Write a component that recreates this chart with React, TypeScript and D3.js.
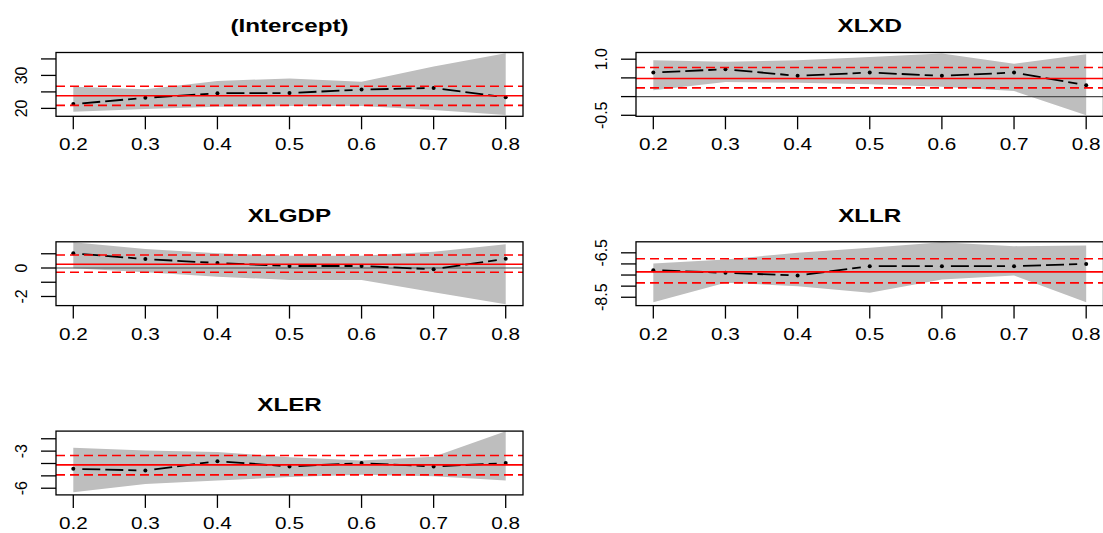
import React from "react";
import * as d3 from "d3";

// ---- data ----
const taus = [0.2, 0.3, 0.4, 0.5, 0.6, 0.7, 0.8];
const xTicks = [0.2, 0.3, 0.4, 0.5, 0.6, 0.7, 0.8];
const xTickLabels = ["0.2", "0.3", "0.4", "0.5", "0.6", "0.7", "0.8"];

const titles = ["(Intercept)", "XLXD", "XLGDP", "XLLR", "XLER"];

// (Intercept)
const interceptEst = [21.3, 23.2, 24.6, 24.65, 25.7, 26.2, 23.35];
const interceptLo = [19.0, 19.8, 20.5, 20.7, 20.7, 19.5, 18.0];
const interceptHi = [26.6, 25.8, 28.3, 29.1, 28.1, 32.7, 36.7];
const interceptOls = [23.83, 20.9, 26.7];
const interceptYLim = [17.6, 36.95];
const interceptYTicks = [20, 25, 30, 35];
const interceptYLabels = ["20", "", "30", ""];

// XLXD
const xlxdEst = [0.643, 0.732, 0.554, 0.643, 0.554, 0.643, 0.304];
const xlxdLo = [0.17, 0.39, 0.37, 0.33, 0.26, 0.15, -0.5];
const xlxdHi = [0.973, 0.93, 0.97, 1.06, 1.15, 0.88, 1.13];
const xlxdOls = [0.482, 0.232, 0.777];
const xlxdYLim = [-0.527, 1.179];
const xlxdYTicks = [-0.5, 0, 0.5, 1.0];
const xlxdYLabels = ["-0.5", "", "", "1.0"];

// XLGDP
const xlgdpEst = [1.03, 0.63, 0.35, 0.14, 0.14, -0.09, 0.65];
const xlgdpLo = [-0.02, -0.3, -0.61, -0.84, -0.84, -1.7, -2.54];
const xlgdpHi = [1.8, 1.33, 1.03, 0.86, 0.86, 1.14, 1.66];
const xlgdpOls = [0.26, -0.3, 0.91];
const xlgdpYLim = [-2.64, 1.84];
const xlgdpYTicks = [-2, -1, 0, 1];
const xlgdpYLabels = ["-2", "", "0", ""];

// XLLR
const xllrEst = [-7.28, -7.4, -7.52, -7.1, -7.1, -7.1, -7.0];
const xllrLo = [-8.73, -7.85, -8.0, -8.3, -7.7, -7.52, -8.73];
const xllrHi = [-6.98, -6.8, -6.5, -6.27, -6.02, -6.2, -6.17];
const xllrOls = [-7.357, -7.853, -6.77];
const xllrYLim = [-8.876, -6.004];
const xllrYTicks = [-8.5, -8, -7.5, -7, -6.5];
const xllrYLabels = ["-8.5", "", "", "", "-6.5"];

// XLER
const xlerEst = [-4.43, -4.57, -3.81, -4.24, -3.97, -4.24, -3.97];
const xlerLo = [-6.32, -5.65, -5.38, -5.1, -4.92, -5.03, -5.38];
const xlerHi = [-2.73, -2.95, -3.08, -3.49, -3.76, -3.45, -1.4];
const xlerOls = [-4.11, -4.92, -3.35];
const xlerYLim = [-6.54, -1.38];
const xlerYTicks = [-6, -5, -4, -3, -2];
const xlerYLabels = ["-6", "", "", "-3", ""];

// ---- layout ----
const W = 1103;
const H = 533;
const COL_LEFT = [56, 636];
const COL_RIGHT = [523, 1103.5];
const ROW_TOP = [52.5, 241.8, 431.1];
const BOX_H = 63.8;
const FONT = "'Liberation Sans', Arial, Helvetica, sans-serif";

const panels = [
  { title: titles[0], col: 0, row: 0, est: interceptEst, lo: interceptLo, hi: interceptHi, ols: interceptOls, ylim: interceptYLim, yTicks: interceptYTicks, yLabels: interceptYLabels },
  { title: titles[1], col: 1, row: 0, est: xlxdEst, lo: xlxdLo, hi: xlxdHi, ols: xlxdOls, ylim: xlxdYLim, yTicks: xlxdYTicks, yLabels: xlxdYLabels },
  { title: titles[2], col: 0, row: 1, est: xlgdpEst, lo: xlgdpLo, hi: xlgdpHi, ols: xlgdpOls, ylim: xlgdpYLim, yTicks: xlgdpYTicks, yLabels: xlgdpYLabels },
  { title: titles[3], col: 1, row: 1, est: xllrEst, lo: xllrLo, hi: xllrHi, ols: xllrOls, ylim: xllrYLim, yTicks: xllrYTicks, yLabels: xllrYLabels },
  { title: titles[4], col: 0, row: 2, est: xlerEst, lo: xlerLo, hi: xlerHi, ols: xlerOls, ylim: xlerYLim, yTicks: xlerYTicks, yLabels: xlerYLabels },
];

function Panel({ p, idx }: { p: any; idx: number }) {
  const L = COL_LEFT[p.col];
  const R = COL_RIGHT[p.col];
  const T = ROW_TOP[p.row];
  const B = T + BOX_H;
  const [tmin, tmax] = d3.extent(taus) as [number, number];
  const pad = (tmax - tmin) * 0.04;
  const x = d3.scaleLinear().domain([tmin - pad, tmax + pad]).range([L, R]);
  const y = d3.scaleLinear().domain(p.ylim).range([B, T]);

  const band = d3
    .area<number>()
    .x((_, i) => x(taus[i]))
    .y0((_, i) => y(p.lo[i]))
    .y1((_, i) => y(p.hi[i]))(taus);

  const gap = 9;
  const segs: { x1: number; y1: number; x2: number; y2: number }[] = [];
  for (let i = 0; i < taus.length - 1; i++) {
    const ax = x(taus[i]), ay = y(p.est[i]);
    const bx = x(taus[i + 1]), by = y(p.est[i + 1]);
    const len = Math.hypot(bx - ax, by - ay);
    if (len <= 2 * gap) continue;
    const ux = (bx - ax) / len, uy = (by - ay) / len;
    segs.push({ x1: ax + ux * gap, y1: ay + uy * gap, x2: bx - ux * gap, y2: by - uy * gap });
  }

  const clipId = `clip-${idx}`;
  const cx = (L + R) / 2;
  const hasZero = p.ylim[0] < 0 && p.ylim[1] > 0;

  return (
    <g>
      <defs>
        <clipPath id={clipId}>
          <rect x={L} y={T} width={R - L} height={B - T} />
        </clipPath>
      </defs>
      <g clipPath={`url(#${clipId})`}>
        <path d={band || ""} fill="#bebebe" stroke="none" />
        {hasZero && <line x1={L} x2={R} y1={y(0)} y2={y(0)} stroke="#4d4d4d" strokeWidth={1.2} />}
        {segs.map((s, i) => (
          <line key={i} x1={s.x1} y1={s.y1} x2={s.x2} y2={s.y2} stroke="#000" strokeWidth={1.8} strokeDasharray="18,5" />
        ))}
        {taus.map((t, i) => (
          <circle key={i} cx={x(t)} cy={y(p.est[i])} r={2} fill="#000" />
        ))}
        <line x1={L} x2={R} y1={y(p.ols[0])} y2={y(p.ols[0])} stroke="#ff0000" strokeWidth={1.6} />
        <line x1={L} x2={R} y1={y(p.ols[1])} y2={y(p.ols[1])} stroke="#ff0000" strokeWidth={1.6} strokeDasharray="9,5" />
        <line x1={L} x2={R} y1={y(p.ols[2])} y2={y(p.ols[2])} stroke="#ff0000" strokeWidth={1.6} strokeDasharray="9,5" />
      </g>
      <rect x={L} y={T} width={R - L} height={B - T} fill="none" stroke="#000" strokeWidth={1.3} />
      {/* x axis */}
      {xTicks.map((t, i) => (
        <g key={`xt${i}`}>
          <line x1={x(t)} x2={x(t)} y1={B} y2={B + 13} stroke="#000" strokeWidth={1.3} />
          <text
            transform={`translate(${x(t)},${B + 34}) scale(1.22,1)`}
            textAnchor="middle"
            fontFamily={FONT}
            fontSize={17}
            fill="#000"
          >
            {xTickLabels[i]}
          </text>
        </g>
      ))}
      {/* y axis */}
      {p.yTicks.map((v: number, i: number) => (
        <g key={`yt${i}`}>
          <line x1={L - 15} x2={L} y1={y(v)} y2={y(v)} stroke="#000" strokeWidth={1.3} />
          {p.yLabels[i] && (
            <text
              transform={`translate(${L - 29.5},${y(v)}) rotate(-90)`}
              textAnchor="middle"
              fontFamily={FONT}
              fontSize={16}
              fill="#000"
            >
              {p.yLabels[i]}
            </text>
          )}
        </g>
      ))}
      <text
        transform={`translate(${cx},${T - 20.2}) scale(1.3,1)`}
        textAnchor="middle"
        fontFamily={FONT}
        fontWeight="bold"
        fontSize={18.6}
        fill="#000"
      >
        {p.title}
      </text>
    </g>
  );
}

export default function App() {
  return (
    <svg
      width={W}
      height={H}
      viewBox={`0 0 ${W} ${H}`}
      style={{ position: "fixed", left: 0, top: 0, background: "#fff", display: "block" }}
    >
      <rect x={0} y={0} width={W} height={H} fill="#fff" />
      {panels.map((p, i) => (
        <Panel key={i} p={p} idx={i} />
      ))}
    </svg>
  );
}
